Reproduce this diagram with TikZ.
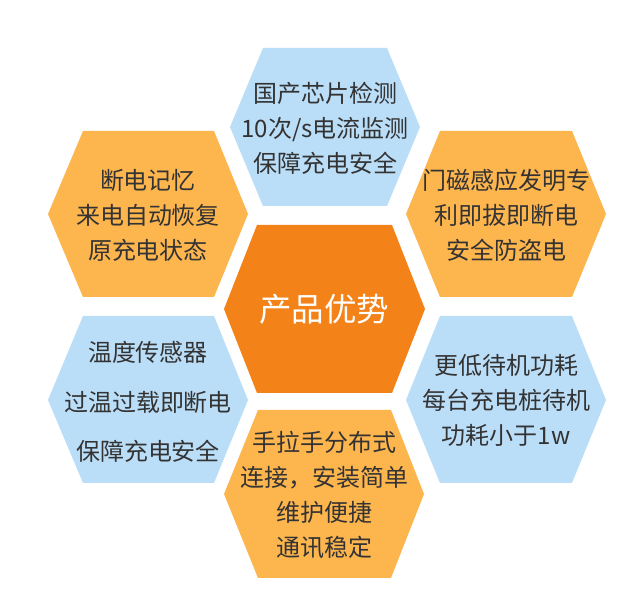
\documentclass[tikz,border=0pt]{standalone}
\usepackage{fontspec}
\newfontfamily\cjk{Noto Sans CJK SC}
\definecolor{hexorange}{HTML}{F38219}
\definecolor{hexlight}{HTML}{FDB54E}
\definecolor{hexblue}{HTML}{BBDEF8}
\definecolor{txtgray}{HTML}{333333}
\tikzset{
  hexfill/.style={fill=#1, draw=none},
  hextext/.style={text=txtgray, align=center, inner sep=0pt, font=\cjk\fontsize{24}{35}\selectfont},
  hexwide/.style={text=txtgray, align=center, inner sep=0pt, font=\cjk\fontsize{24}{49.5}\selectfont},
  hexmain/.style={text=white, align=center, inner sep=0pt, font=\cjk\fontsize{32.5}{38}\selectfont}
}
\begin{document}
\begin{tikzpicture}[x=1pt,y=-1pt]
\useasboundingbox (0,0) rectangle (638,609);
\fill[white] (0,0) rectangle (638,609);
% hexagons
\path[hexfill=hexblue] (230,127) -- (263,48) -- (387,48) -- (420,127) -- (387,206) -- (263,206) -- cycle;
\path[hexfill=hexlight] (48,214) -- (83,131) -- (214,131) -- (248,214) -- (214,297) -- (83,297) -- cycle;
\path[hexfill=hexlight] (406,214) -- (440,131) -- (572,131) -- (606,214) -- (572,297) -- (440,297) -- cycle;
\path[hexfill=hexorange] (224,309) -- (257,225) -- (392,225) -- (425,309) -- (392,393) -- (257,393) -- cycle;
\path[hexfill=hexblue] (48,400) -- (83,316) -- (214,316) -- (248,400) -- (214,483) -- (83,483) -- cycle;
\path[hexfill=hexblue] (406,400) -- (440,316) -- (572,316) -- (606,400) -- (572,483) -- (440,483) -- cycle;
\path[hexfill=hexlight] (224,494) -- (258,410) -- (391,410) -- (424,494) -- (391,578) -- (258,578) -- cycle;
% texts
\node[hextext] (top) at (325,128) {国产芯片检测\\10次/s电流监测\\保障充电安全};
\node[hextext] (ul) at (148,215) {断电记忆\\来电自动恢复\\原充电状态};
\node[hextext] (ur) at (506,215) {门磁感应发明专\\利即拔即断电\\安全防盗电};
\node[hexmain] (mid) at (324,309) {产品优势};
\node[hexwide] (ll) at (148,402) {温度传感器\\过温过载即断电\\保障充电安全};
\node[hextext] (lr) at (506,400) {更低待机功耗\\每台充电桩待机\\功耗小于1w};
\node[hextext] (bot) at (324,495) {手拉手分布式\\连接，安装简单\\维护便捷\\通讯稳定};
\end{tikzpicture}
\end{document}
